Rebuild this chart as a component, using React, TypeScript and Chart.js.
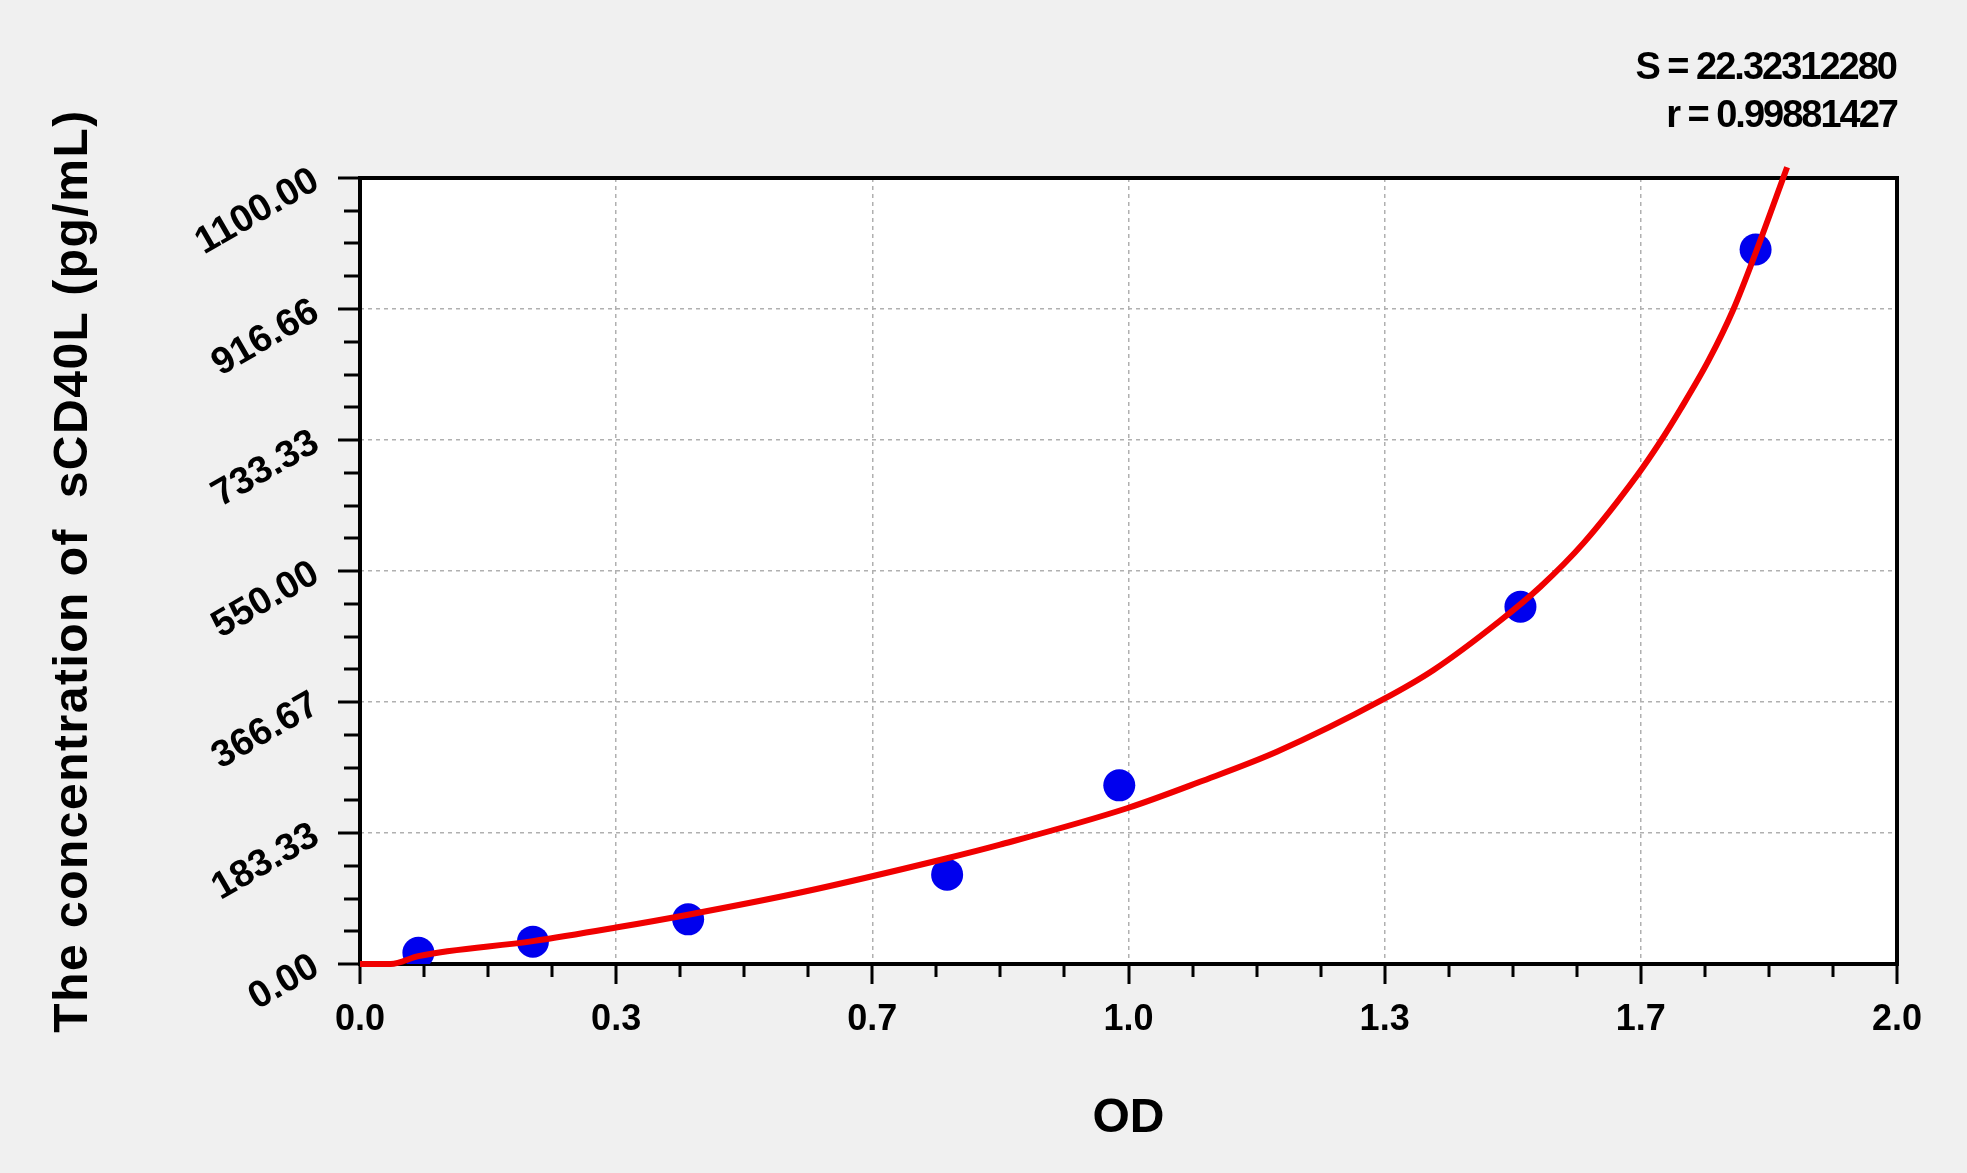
import { useEffect, useRef } from 'react';
import { Chart, registerables } from 'chart.js';

Chart.register(...registerables);

// standards: OD, concentration in pg/mL
const odValues = [0.076, 0.225, 0.427, 0.764, 0.988, 1.51, 1.816];
const concValues = [15.63, 31.25, 62.5, 125, 250, 500, 1000];

// fitted curve
const curveOd = [0, 0.04, 0.076, 0.225, 0.333, 0.427, 0.573, 0.764, 0.833, 0.998, 1.093, 1.193, 1.33, 1.397, 1.483, 1.536, 1.592, 1.662, 1.692, 1.718, 1.755, 1.787, 1.816, 1.857];
const curveConc = [0, 0, 11, 32, 51, 69, 100, 148, 167, 218, 255, 297, 369.5, 411.5, 480, 528, 589, 684, 731, 776, 845, 916, 995, 1115];

const xTickValues = [0, 0.3333, 0.6667, 1, 1.3333, 1.6667, 2];
const xTickLabels = ['0.0', '0.3', '0.7', '1.0', '1.3', '1.7', '2.0'];
const yTickValues = [0, 183.33, 366.67, 550, 733.33, 916.66, 1100];
const yTickLabels = ['0.00', '183.33', '366.67', '550.00', '733.33', '916.66', '1100.00'];

const fitLines = ['S = 22.32312280', 'r = 0.99881427'];
const xTitle = 'OD';
const yTitle = 'The concentration of  sCD40L (pg/mL)';

const FONT = '"Liberation Sans", Arial, sans-serif';

const framePlugin = {
  id: 'frame',
  beforeDraw(chart: any) {
    const { ctx, chartArea: a, width, height } = chart;
    ctx.save();
    ctx.fillStyle = '#f0f0f0';
    ctx.fillRect(0, 0, width, height);
    ctx.fillStyle = '#ffffff';
    ctx.fillRect(a.left, a.top, a.right - a.left, a.bottom - a.top);
    ctx.restore();
  },
  beforeDatasetsDraw(chart: any) {
    const { ctx, chartArea: a, scales } = chart;
    const xs = scales.x;
    const ys = scales.y;
    ctx.save();
    ctx.strokeStyle = '#000';
    ctx.lineWidth = 3;
    // 4 minor steps between labelled ticks
    for (let i = 0; i <= 24; i++) {
      const px = Math.round(xs.getPixelForValue((i * 2) / 24));
      ctx.beginPath();
      ctx.moveTo(px, a.bottom);
      ctx.lineTo(px, a.bottom + (i % 4 === 0 ? 20 : 13));
      ctx.stroke();
      const py = Math.round(ys.getPixelForValue((i * 1100) / 24));
      ctx.beginPath();
      ctx.moveTo(a.left, py);
      ctx.lineTo(a.left - (i % 4 === 0 ? 22 : 16), py);
      ctx.stroke();
    }
    ctx.lineWidth = 4;
    ctx.strokeRect(a.left, a.top, a.right - a.left, a.bottom - a.top);
    ctx.restore();
  },
  afterDraw(chart: any) {
    const { ctx, chartArea: a } = chart;
    ctx.save();
    ctx.fillStyle = '#000';
    ctx.textBaseline = 'alphabetic';

    ctx.font = `bold 48px ${FONT}`;
    ctx.textAlign = 'center';
    ctx.fillText(xTitle, (a.left + a.right) / 2, 1132);

    ctx.save();
    ctx.translate(87, (a.top + a.bottom) / 2);
    ctx.rotate(-Math.PI / 2);
    ctx.letterSpacing = '1.5px';
    ctx.fillText(yTitle, 0, 0);
    ctx.restore();

    ctx.font = `bold 38px ${FONT}`;
    ctx.textAlign = 'right';
    ctx.letterSpacing = '-2px';
    ctx.fillText(fitLines[0], 1896, 79);
    ctx.fillText(fitLines[1], 1897, 127);
    ctx.restore();
  },
};

export default function App() {
  const chartRef = useRef<HTMLCanvasElement | null>(null);

  useEffect(() => {
    if (!chartRef.current) return;
    const ctx = chartRef.current.getContext('2d');
    if (!ctx) return;

    const xFont = { family: FONT, size: 36, weight: 'bold' as const };
    const yFont = { family: FONT, size: 38, weight: 'bold' as const };

    const chartInstance = new Chart(ctx, {
      type: 'scatter',
      data: {
        datasets: [
          {
            label: 'fit',
            data: curveOd.map((x, i) => ({ x, y: curveConc[i] })),
            showLine: true,
            borderColor: '#f00000',
            borderWidth: 6,
            pointRadius: 0,
            cubicInterpolationMode: 'monotone',
            clip: false,
          } as any,
          {
            label: 'standards',
            data: odValues.map((x, i) => ({ x, y: concValues[i] })),
            pointRadius: 16,
            pointHoverRadius: 16,
            backgroundColor: '#0000ee',
            borderWidth: 0,
          },
        ],
      },
      options: {
        responsive: false,
        animation: false,
        layout: { padding: { top: 178, right: 70, left: 0, bottom: 0 } },
        plugins: {
          legend: { display: false },
          tooltip: { enabled: false },
        },
        scales: {
          x: {
            type: 'linear',
            min: 0,
            max: 2,
            afterBuildTicks: (s: any) => {
              s.ticks = xTickValues.map((value) => ({ value }));
            },
            afterFit: (s: any) => {
              s.height = 209;
            },
            ticks: {
              autoSkip: false,
              maxRotation: 0,
              minRotation: 0,
              padding: 34,
              color: '#000',
              font: xFont,
              callback: (_v: any, i: number) => xTickLabels[i],
            },
            grid: { color: '#b0b0b0', lineWidth: 1.5, drawTicks: false },
            border: { display: false, dash: [4, 4] },
          },
          y: {
            type: 'linear',
            min: 0,
            max: 1100,
            afterBuildTicks: (s: any) => {
              s.ticks = yTickValues.map((value) => ({ value }));
            },
            afterFit: (s: any) => {
              s.width = 360;
            },
            ticks: {
              autoSkip: false,
              minRotation: 30,
              maxRotation: 30,
              padding: 44,
              color: '#000',
              font: yFont,
              callback: (_v: any, i: number) => yTickLabels[i],
            },
            grid: { color: '#b0b0b0', lineWidth: 1.5, drawTicks: false },
            border: { display: false, dash: [4, 4] },
          },
        },
      },
      plugins: [framePlugin],
    });

    return () => {
      chartInstance.destroy();
    };
  }, []);

  return (
    <div style={{ position: 'absolute', left: 0, top: 0, width: 1967, height: 1173, background: '#f0f0f0' }}>
      <canvas ref={chartRef} width={1967} height={1173} style={{ display: 'block' }}></canvas>
    </div>
  );
}
